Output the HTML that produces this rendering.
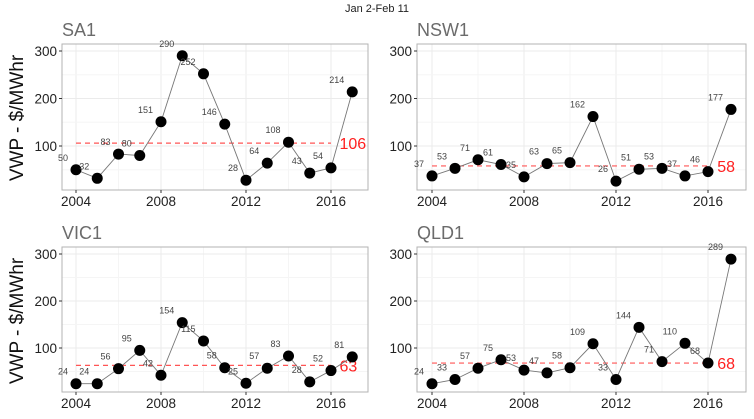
<!DOCTYPE html>
<html><head><meta charset="utf-8"><style>
html,body{margin:0;padding:0;background:#fff;}
svg{display:block;font-family:"Liberation Sans",sans-serif;}
</style></head><body>
<svg id="chart" width="754" height="419" viewBox="0 0 754 419">
<text x="377" y="12" text-anchor="middle" font-size="11" fill="#222">Jan 2-Feb 11</text>
<text transform="translate(23,118) rotate(-90)" text-anchor="middle" font-size="19" fill="#111">VWP - $/MWhr</text>
<text transform="translate(23,321) rotate(-90)" text-anchor="middle" font-size="19" fill="#111">VWP - $/MWhr</text>
</svg>
<script>
const years = [2004,2005,2006,2007,2008,2009,2010,2011,2012,2013,2014,2015,2016,2017];
const regions = ["SA1","NSW1","VIC1","QLD1"];
const sa1 = [50,32,83,80,151,290,252,146,28,64,108,43,54,214];
const nsw1 = [37,53,71,61,35,63,65,162,26,51,53,37,46,177];
const vic1 = [24,24,56,95,42,154,115,58,25,57,83,28,52,81];
const qld1 = [24,33,57,75,53,47,58,109,33,144,71,110,68,289];
const means = [106,58,63,68];
const xTicks = [2004,2008,2012,2016];
const yTicks = [100,200,300];

const seriesList = [sa1,nsw1,vic1,qld1];
const panels = [
  {l:62,r:368,t:44,b:190,x0:76,x1:331,y100:146,y300:51},
  {l:417,r:746,t:44,b:190,x0:432,x1:708,y100:146,y300:51},
  {l:62,r:368,t:247,b:392,x0:76,x1:331,y100:348,y300:254},
  {l:417,r:746,t:247,b:392,x0:432,x1:708,y100:348,y300:254}
];
const svg = document.getElementById('chart');
const NS = 'http://www.w3.org/2000/svg';
function mk(tag, attrs, parent){
  const e = document.createElementNS(NS, tag);
  for (const k in attrs) e.setAttribute(k, attrs[k]);
  (parent||svg).appendChild(e);
  return e;
}
panels.forEach((p, pi) => {
  const data = seriesList[pi];
  const xs = v => p.x0 + (v - 2004) * (p.x1 - p.x0) / 12;
  const ys = v => p.y100 + (v - 100) * (p.y300 - p.y100) / 200;
  const g = mk('g', {});
  
  
  for (let yr = 2004; yr <= 2016; yr += 2) {
    const ln = mk('line', {x1:xs(yr), x2:xs(yr), y1:p.t, y2:p.b, stroke: (yr%4===0)?'#ebebeb':'#f5f5f5', 'stroke-width':1}, g);
    
    
  }
  for (let v = 50; v <= 300; v += 50) {
    const ln = mk('line', {x1:p.l, x2:p.r, y1:ys(v), y2:ys(v), stroke: (v%100===0)?'#ebebeb':'#f5f5f5', 'stroke-width':1}, g);
    
    
  }
  const border = mk('rect', {x:p.l, y:p.t, width:p.r-p.l, height:p.b-p.t, fill:'none', stroke:'#b3b3b3', 'stroke-width':1}, g);
  
  
  const title = mk('text', {x:p.l, y:p.t-8, 'font-size':18, fill:'#6b6b6b'}, g);
  title.textContent = regions[pi];
  
  
  xTicks.forEach(t => {
    mk('line', {x1:xs(t), x2:xs(t), y1:p.b, y2:p.b+3, stroke:'#333'}, g);
    const tx = mk('text', {x:xs(t), y:p.b+16, 'text-anchor':'middle', 'font-size':13.5, fill:'#222'}, g);
    tx.textContent = t;
    
    
  });
  yTicks.forEach(t => {
    mk('line', {x1:p.l-3, x2:p.l, y1:ys(t), y2:ys(t), stroke:'#333'}, g);
    const tx = mk('text', {x:p.l-5, y:ys(t)+5, 'text-anchor':'end', 'font-size':13.5, fill:'#222'}, g);
    tx.textContent = t;
    
    
  });
  const m = means[pi];
  const ml = mk('line', {x1:xs(2004), x2:xs(2016), y1:ys(m), y2:ys(m), stroke:'#f55', 'stroke-width':1.2, 'stroke-dasharray':'5,4'}, g);
  
  
  const mt = mk('text', {x:xs(2016.4), y:ys(m)+6, 'font-size':16, fill:'#ff2020'}, g);
  mt.textContent = m;
  
  
  const pts = data.map((v,i) => xs(years[i]) + ',' + ys(v)).join(' ');
  const pl = mk('polyline', {points:pts, fill:'none', stroke:'#777', 'stroke-width':0.9}, g);
  
  
  data.forEach((v,i) => {
    const c = mk('circle', {cx:xs(years[i]), cy:ys(v), r:5.5, fill:'#000'}, g);
    
    
    const lb = mk('text', {x:xs(years[i])-8, y:ys(v)-9, 'text-anchor':'end', 'font-size':9, fill:'#444'}, g);
    lb.textContent = v;
    
    
  });
});
</script>
</body></html>
